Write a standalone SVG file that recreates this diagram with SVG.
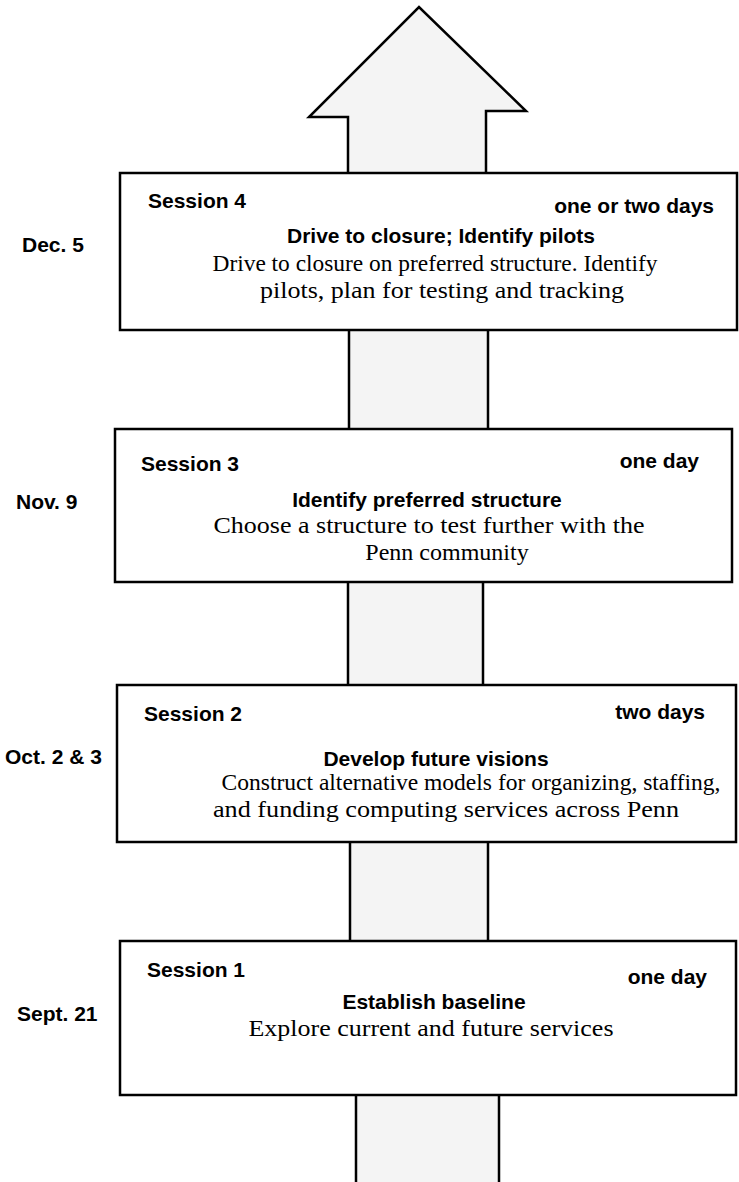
<svg xmlns="http://www.w3.org/2000/svg" width="739" height="1182" viewBox="0 0 739 1182">
<style>
.shaft{fill:#f4f4f4;stroke:#000;stroke-width:2.5}
.box{fill:#fff;stroke:#000;stroke-width:2.5}
.b{font-family:"Liberation Sans",Arial,sans-serif;font-weight:bold;font-size:21px;fill:#000}
.s{font-family:"Liberation Serif","Times New Roman",serif;font-size:24px;fill:#000}
.m{text-anchor:middle}
.e{text-anchor:end}
</style>
<g id="connectors">
<polygon class="shaft" points="348,180 348,117 309,117 419,7 526,111 486,111 486,180"/>
<rect class="shaft" x="349" y="320" width="139" height="118"/>
<rect class="shaft" x="348" y="575" width="135" height="118"/>
<rect class="shaft" x="350" y="830" width="138" height="118"/>
<rect class="shaft" x="356" y="1085" width="143" height="110"/>
</g>
<g id="session4">
<rect class="box" x="120" y="173" width="617" height="157"/>
<text class="b" x="148" y="208">Session 4</text>
<text class="b e" x="714" y="213">one or two days</text>
<text class="b m" x="441" y="243">Drive to closure; Identify pilots</text>
<text class="s m" x="435" y="271" textLength="445" lengthAdjust="spacingAndGlyphs">Drive to closure on preferred structure. Identify</text>
<text class="s m" x="442" y="298" font-size="25" textLength="364" lengthAdjust="spacingAndGlyphs">pilots, plan for testing and tracking</text>
</g>
<g id="date4"><text class="b" x="22" y="252">Dec. 5</text></g>
<g id="session3">
<rect class="box" x="115" y="429" width="617" height="153"/>
<text class="b" x="141" y="471">Session 3</text>
<text class="b e" x="699" y="468">one day</text>
<text class="b m" x="427" y="507">Identify preferred structure</text>
<text class="s m" x="429" y="533" textLength="431" lengthAdjust="spacingAndGlyphs">Choose a structure to test further with the</text>
<text class="s m" x="447" y="560">Penn community</text>
</g>
<g id="date3"><text class="b" x="16" y="509">Nov. 9</text></g>
<g id="session2">
<rect class="box" x="117" y="685" width="619" height="157"/>
<text class="b" x="144" y="721">Session 2</text>
<text class="b e" x="705" y="719">two days</text>
<text class="b m" x="436" y="766">Develop future visions</text>
<text class="s m" x="471" y="790" textLength="499" lengthAdjust="spacingAndGlyphs">Construct alternative models for organizing, staffing,</text>
<text class="s m" x="446" y="817" textLength="466" lengthAdjust="spacingAndGlyphs">and funding computing services across Penn</text>
</g>
<g id="date2"><text class="b" x="5" y="764">Oct. 2 &amp; 3</text></g>
<g id="session1">
<rect class="box" x="120" y="941" width="616" height="154"/>
<text class="b" x="147" y="977">Session 1</text>
<text class="b e" x="707" y="984">one day</text>
<text class="b m" x="434" y="1009">Establish baseline</text>
<text class="s m" x="431" y="1036" textLength="365" lengthAdjust="spacingAndGlyphs">Explore current and future services</text>
</g>
<g id="date1"><text class="b" x="17" y="1021">Sept. 21</text></g>
</svg>
